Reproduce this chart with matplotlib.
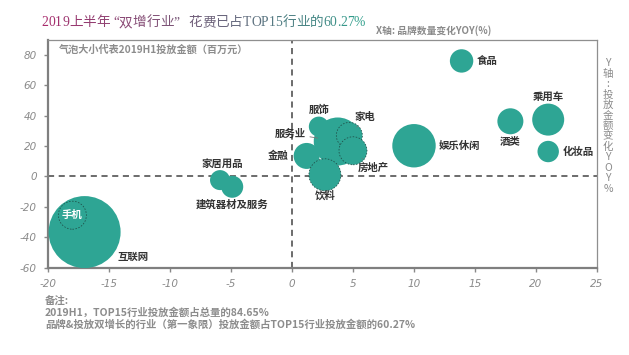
import numpy as np
import matplotlib
matplotlib.use("Agg")
import matplotlib.pyplot as plt
from matplotlib.colors import to_rgb

plt.rcParams['font.family'] = ['Noto Sans CJK SC', 'DejaVu Sans']
plt.rcParams['axes.unicode_minus'] = False

# industry, brand-count YOY (%), spend YOY (%), 2019H1 spend (est., 百万元)
industries = ['互联网', '手机', '家居用品', '建筑器材及服务', '服务业', '服饰', '金融',
              '家电', '房地产', '饮料', '娱乐休闲', '食品', '酒类', '乘用车', '化妆品']
brand_yoy = [-17.0, -18.0, -5.9, -4.9, 3.75, 2.2, 1.2, 4.7, 5.0, 2.7, 10.0, 13.9, 17.9, 21.0, 21.0]
spend_yoy = [-36.7, -25.6, -2.5, -6.9, 22.9, 32.7, 13.4, 26.9, 16.8, 1.0, 20.1, 75.9, 36.2, 37.3, 16.3]
spend = [12960, 1960, 1000, 1210, 5760, 1000, 1690, 1690, 1960, 2560, 4710, 1370, 1690, 2560, 1145]

x_ticks = [-20, -15, -10, -5, 0, 5, 10, 15, 20, 25]
y_ticks = [-60, -40, -20, 0, 20, 40, 60, 80]

title = '2019上半年“双增行业” 花费已占TOP15行业的60.27%'
note_lines = ['备注:',
              '2019H1，TOP15行业投放金额占总量的84.65%',
              '品牌&投放双增长的行业（第一象限）投放金额占TOP15行业投放金额的60.27%']

# label placement: (dx px, dy px, ha, leader)
label_pos = {
    '互联网': (48, -25, 'center', False),
    '手机': (0, 0, 'center', False),
    '家居用品': (2, 16, 'center', False),
    '建筑器材及服务': (0, -18, 'center', False),
    '服务业': (-32, 8, 'right', True),
    '服饰': (0, 17, 'center', False),
    '金融': (-18, 0, 'right', False),
    '家电': (16, 18, 'center', True),
    '房地产': (20, -17, 'center', True),
    '饮料': (0, -21, 'center', False),
    '娱乐休闲': (25, 0, 'left', False),
    '食品': (15, 0, 'left', False),
    '酒类': (0, -21, 'center', False),
    '乘用车': (0, 23, 'center', False),
    '化妆品': (15, 0, 'left', False),
}
dashed_edge = ['手机', '家电', '房地产', '饮料']

teal = '#2ea594'
gray = '#8a8a8a'

fig = plt.figure(figsize=(6.29, 3.55), dpi=100)
ax = fig.add_axes([48 / 629, 1 - 267.5 / 355, 549 / 629, 228 / 355])

for i, name in enumerate(industries):
    s = 0.20736 * spend[i]
    if name in dashed_edge:
        ax.scatter(brand_yoy[i], spend_yoy[i], s=s, color=teal, edgecolors='#1f4d47',
                   linewidths=0.55, linestyle=(0, (2, 2)), zorder=3 + i * 0.01)
    else:
        ax.scatter(brand_yoy[i], spend_yoy[i], s=s, color=teal, edgecolors='none',
                   zorder=3 + i * 0.01)

for i, name in enumerate(industries):
    dx, dy, ha, leader = label_pos[name]
    r_pt = np.sqrt(spend[i] / 10) * 0.72
    col = 'white' if name == '手机' else '#333333'
    kw = {}
    if leader:
        kw['arrowprops'] = dict(arrowstyle='-', color='#777777', lw=0.6,
                                shrinkA=1, shrinkB=r_pt * 0.85)
    ax.annotate(name, (brand_yoy[i], spend_yoy[i]), xytext=(dx, dy),
                textcoords='offset pixels', ha=ha, va='center', fontsize=7.5,
                fontweight='bold', color=col, zorder=10, **kw)

ax.axvline(0, color='#444444', lw=1.1, linestyle=(0, (4, 3)), zorder=1)
ax.axhline(0, color='#444444', lw=1.1, linestyle=(0, (4, 3)), zorder=1)

ax.set_xlim(-20, 25)
ax.set_ylim(-60, 90)
ax.set_xticks(x_ticks)
ax.set_yticks(y_ticks)
ax.tick_params(direction='out', length=3, width=1, color='#888888', labelcolor=gray,
               labelsize=7.5, pad=5)
for lab in ax.get_xticklabels() + ax.get_yticklabels():
    lab.set_fontstyle('italic')
    lab.set_family('DejaVu Sans')
for sp in ['left', 'bottom']:
    ax.spines[sp].set_color('#7f7f7f')
    ax.spines[sp].set_linewidth(1.6)
for sp in ['top', 'right']:
    ax.spines[sp].set_color('#8f8f8f')
    ax.spines[sp].set_linewidth(0.9)

ax.text(0.02, 0.955, '气泡大小代表2019H1投放金额（百万元）', transform=ax.transAxes,
        fontsize=7.3, fontweight='bold', color='#8c8c8c', va='center', ha='left')

# gradient title, char by char
fig.canvas.draw()
renderer = fig.canvas.get_renderer()
c0 = np.array(to_rgb('#a82a6c'))
c1 = np.array(to_rgb('#2f9f8c'))
x = 41.7
n = len(title)
for k, ch in enumerate(title):
    c = c0 + (c1 - c0) * k / (n - 1)
    if ch == ' ':
        x += 6
        continue
    if ch == '“':
        x += 3
    t = fig.text(x / 629, 1 - 22.7 / 355, ch, fontsize=9.8, color=c, va='center', ha='left',
                 family=['Liberation Serif', 'Noto Sans CJK SC'])
    ext = t.get_window_extent(renderer)
    x = ext.x1
    if ch == '”':
        x += 3

fig.text(491.7 / 629, 1 - 30.7 / 355, 'X轴: 品牌数量变化YOY(%)', fontsize=7, color=gray,
         fontweight='bold', fontstyle='italic', ha='right', va='center')

fig.text(608 / 629, 1 - 126 / 355, '\n'.join(list('Y轴:投放金额变化YOY%')), fontsize=7.5,
         color=gray, fontstyle='italic', ha='center', va='center', linespacing=1.05)

for j, line in enumerate(note_lines):
    fig.text(45 / 629, 1 - (300.7 + 11.7 * j) / 355, line, fontsize=7.5, color='#8c8c8c',
             fontweight='bold', fontstyle='italic', ha='left', va='center')

fig.savefig('out.png', dpi=100)
